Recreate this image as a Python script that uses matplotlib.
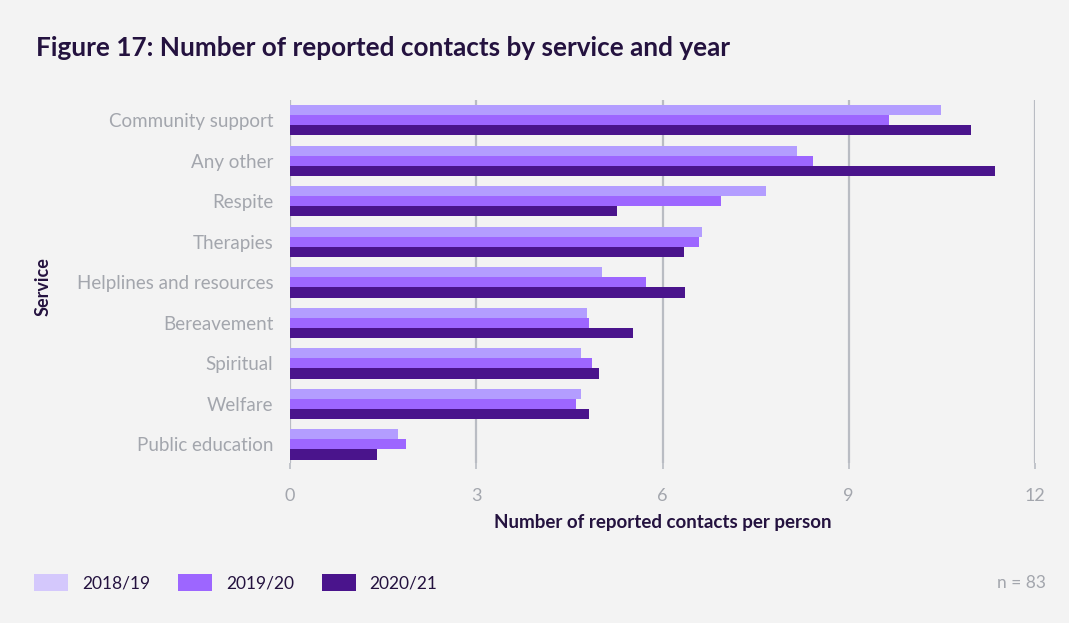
import matplotlib.pyplot as plt
from matplotlib.patches import Patch
import numpy as np

# contacts per person, one list per year
services = ['Community support', 'Any other', 'Respite', 'Therapies',
            'Helplines and resources', 'Bereavement', 'Spiritual',
            'Welfare', 'Public education']
years = ['2018/19', '2019/20', '2020/21']
y2018 = [10.48, 8.16, 7.66, 6.63, 5.03, 4.79, 4.68, 4.69, 1.74]
y2019 = [9.65, 8.42, 6.94, 6.58, 5.73, 4.81, 4.87, 4.60, 1.87]
y2020 = [10.97, 11.35, 5.27, 6.34, 6.37, 5.53, 4.98, 4.81, 1.40]
xticks = [0, 3, 6, 9, 12]

bar_colors = ['#b39dff', '#9d66ff', '#4a148c']
legend_colors = ['#d4c8fc', '#9d66ff', '#4a148c']
bg = '#f3f3f3'
dark = '#24123f'
grey_text = '#a3a6ad'
grid_c = '#b9bcc3'

plt.rcParams['font.family'] = ['Lato', 'DejaVu Sans']

fig = plt.figure(figsize=(10.69, 6.23), dpi=100, facecolor=bg)
ax = fig.add_axes([290 / 1069, 1 - 463 / 623, 745 / 1069, 363 / 623])
ax.set_facecolor(bg)

pos = np.arange(len(services))
h = 0.25
for i, (vals, c) in enumerate(zip([y2018, y2019, y2020], bar_colors)):
    ax.barh(pos + (i - 1) * h, vals, height=h, color=c, zorder=3)

ax.set_xlim(0, 12)
ax.set_ylim(8.46, -0.5)
ax.set_xticks(xticks)
ax.set_xticklabels([str(t) for t in xticks])
ax.set_yticks(pos)
ax.set_yticklabels(services)
ax.grid(axis='x', color=grid_c, linewidth=1.6, zorder=0)
for s in ax.spines.values():
    s.set_visible(False)
ax.tick_params(axis='y', length=0, pad=12, labelsize=13.5, labelcolor=grey_text)
ax.tick_params(axis='x', length=4, width=1.2, color=grid_c, pad=14,
               labelsize=13, labelcolor=grey_text)

ax.set_xlabel('Number of reported contacts per person', fontsize=13.5,
              fontweight='bold', color=dark, labelpad=7)
fig.text(43 / 1069, 1 - 287 / 623, 'Service', rotation=90, fontsize=13,
         fontweight='bold', color=dark, ha='center', va='center')

fig.text(36 / 1069, 1 - 48 / 623,
         'Figure 17: Number of reported contacts by service and year',
         fontsize=18.8, fontweight='bold', color=dark, ha='left', va='center')

handles = [Patch(facecolor=c, edgecolor='none') for c in legend_colors]
fig.legend(handles, years, loc='center left',
           bbox_to_anchor=(34 / 1069, 1 - 583 / 623), ncol=3, frameon=False,
           fontsize=12.5, labelcolor=dark, handlelength=1.96, handleheight=1.1,
           handletextpad=0.8, columnspacing=1.6, borderpad=0,
           borderaxespad=0)

fig.text(1046 / 1069, 1 - 583 / 623, 'n = 83', fontsize=12.5,
         color=grey_text, ha='right', va='center')

fig.savefig('out.png', dpi=100, facecolor=bg)
